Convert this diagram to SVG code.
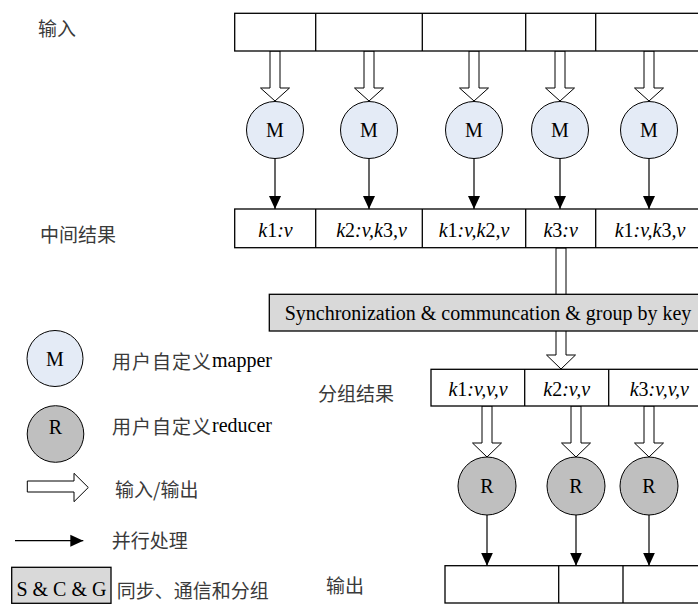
<svg xmlns="http://www.w3.org/2000/svg" width="698" height="604" viewBox="0 0 698 604">
<defs>
<marker id="ah" markerUnits="userSpaceOnUse" markerWidth="14" markerHeight="14" viewBox="0 0 14 14" refX="13" refY="7" orient="auto">
<path d="M0,1 L13,7 L0,13 Z" fill="#000"/>
</marker>
</defs>
<style>
.box{fill:#fff;stroke:#000;stroke-width:1.3}
.gray{fill:#d9d9d9;stroke:#000;stroke-width:1.3}
.mc{fill:#e4ebf6;stroke:#000;stroke-width:1}
.rc{fill:#bfbfbf;stroke:#000;stroke-width:1}
.ha{fill:#fff;stroke:#000;stroke-width:1}
.ln{stroke:#000;stroke-width:1.2;fill:none;marker-end:url(#ah)}
.dv{stroke:#000;stroke-width:1.3}
.t{font-family:"Liberation Serif","Noto Sans CJK SC",serif;font-size:20px;fill:#000;dominant-baseline:central}
.c{font-family:"Noto Sans CJK SC","Liberation Serif",sans-serif;font-size:19px;fill:#3a3a3a;dominant-baseline:central}
.cj{font-family:"Noto Sans CJK SC",sans-serif;font-size:19px;fill:#3a3a3a;letter-spacing:1px}
.m{text-anchor:middle}
.i{font-style:italic}
.n{font-style:normal}
</style>

<g id="labels">
<text class="c" x="38" y="27">输入</text>
<text class="c" x="40" y="233">中间结果</text>
<text class="c" x="318" y="392">分组结果</text>
<text class="c" x="326" y="584">输出</text>
</g>

<g id="connectors">
<polygon class="ha" points="270,51 280,51 280,88 289.5,88 275,101 260.5,88 270,88"/>
<polygon class="ha" points="364,51 374,51 374,88 383.5,88 369,101 354.5,88 364,88"/>
<polygon class="ha" points="469,51 479,51 479,88 488.5,88 474,101 459.5,88 469,88"/>
<polygon class="ha" points="555,51 565,51 565,88 574.5,88 560,101 545.5,88 555,88"/>
<polygon class="ha" points="644,51 654,51 654,88 663.5,88 649,101 634.5,88 644,88"/>
<line class="ln" x1="275" y1="158.5" x2="275" y2="209"/>
<line class="ln" x1="369" y1="158.5" x2="369" y2="209"/>
<line class="ln" x1="474" y1="158.5" x2="474" y2="209"/>
<line class="ln" x1="560" y1="158.5" x2="560" y2="209"/>
<line class="ln" x1="649" y1="158.5" x2="649" y2="209"/>
<polygon class="ha" points="556,248 566,248 566,355 575.5,355 561,369 546.5,355 556,355"/>
<polygon class="ha" points="482,406 492,406 492,443 501.5,443 487,457 472.5,443 482,443"/>
<polygon class="ha" points="571,406 581,406 581,443 590.5,443 576,457 561.5,443 571,443"/>
<polygon class="ha" points="644,406 654,406 654,443 663.5,443 649,457 634.5,443 644,443"/>
<line class="ln" x1="487" y1="515" x2="487" y2="565.7"/>
<line class="ln" x1="576" y1="515" x2="576" y2="565.7"/>
<line class="ln" x1="649" y1="515" x2="649" y2="565.7"/>
</g>

<g id="input-bar">
<rect class="box" x="234.7" y="13.3" width="480" height="37.7"/>
<line class="dv" x1="315.7" y1="13.3" x2="315.7" y2="51"/>
<line class="dv" x1="422.3" y1="13.3" x2="422.3" y2="51"/>
<line class="dv" x1="525.7" y1="13.3" x2="525.7" y2="51"/>
<line class="dv" x1="595.7" y1="13.3" x2="595.7" y2="51"/>
</g>

<g id="mappers">
<g id="m1"><circle class="mc" cx="275" cy="130" r="28.5"/><text class="t m" x="275" y="130">M</text></g>
<g id="m2"><circle class="mc" cx="369" cy="130" r="28.5"/><text class="t m" x="369" y="130">M</text></g>
<g id="m3"><circle class="mc" cx="474" cy="130" r="28.5"/><text class="t m" x="474" y="130">M</text></g>
<g id="m4"><circle class="mc" cx="560" cy="130" r="28.5"/><text class="t m" x="560" y="130">M</text></g>
<g id="m5"><circle class="mc" cx="649" cy="130" r="28.5"/><text class="t m" x="649" y="130">M</text></g>
</g>

<g id="intermediate-bar">
<rect class="box" x="234.7" y="209" width="480" height="38.7"/>
<line class="dv" x1="315.7" y1="209" x2="315.7" y2="247.7"/>
<line class="dv" x1="422.3" y1="209" x2="422.3" y2="247.7"/>
<line class="dv" x1="525.7" y1="209" x2="525.7" y2="247.7"/>
<line class="dv" x1="595.7" y1="209" x2="595.7" y2="247.7"/>
<text class="t m i" x="275.5" y="230">k<tspan class="n">1</tspan>:v</text>
<text class="t m i" x="371.5" y="230">k<tspan class="n">2</tspan>:v,k<tspan class="n">3</tspan>,v</text>
<text class="t m i" x="474" y="230">k<tspan class="n">1</tspan>:v,k<tspan class="n">2</tspan>,v</text>
<text class="t m i" x="560.7" y="230">k<tspan class="n">3</tspan>:v</text>
<text class="t m i" x="650" y="230">k<tspan class="n">1</tspan>:v,k<tspan class="n">3</tspan>,v</text>
</g>

<g id="sync">
<rect class="gray" x="269.3" y="294.3" width="440" height="36.7"/>
<text class="t m" x="488" y="313">Synchronization &amp; communcation &amp; group by key</text>
</g>

<g id="group-bar">
<rect class="box" x="431" y="369.3" width="280" height="36.7"/>
<line class="dv" x1="524.7" y1="369.3" x2="524.7" y2="406"/>
<line class="dv" x1="608.7" y1="369.3" x2="608.7" y2="406"/>
<text class="t m i" x="478" y="388.5">k<tspan class="n">1</tspan>:v,v,v</text>
<text class="t m i" x="566.7" y="388.5">k<tspan class="n">2</tspan>:v,v</text>
<text class="t m i" x="659.3" y="388.5">k<tspan class="n">3</tspan>:v,v,v</text>
</g>

<g id="reducers">
<g id="r1"><circle class="rc" cx="487" cy="486" r="29"/><text class="t m" x="487" y="486">R</text></g>
<g id="r2"><circle class="rc" cx="576" cy="486" r="29"/><text class="t m" x="576" y="486">R</text></g>
<g id="r3"><circle class="rc" cx="649" cy="486" r="29"/><text class="t m" x="649" y="486">R</text></g>
</g>

<g id="output-bar">
<rect class="box" x="445" y="565.7" width="270" height="37.3"/>
<line class="dv" x1="558.7" y1="565.7" x2="558.7" y2="603"/>
<line class="dv" x1="623" y1="565.7" x2="623" y2="603"/>
</g>

<g id="legend">
<g id="leg-m"><circle class="mc" cx="55" cy="358.5" r="28"/><text class="t m" x="55" y="358.5">M</text>
<text class="t" x="112" y="360"><tspan class="cj">用户自定义</tspan>mapper</text></g>
<g id="leg-r"><circle class="rc" cx="55.5" cy="434" r="28.3"/><text class="t m" x="55.5" y="427">R</text>
<text class="t" x="112" y="425"><tspan class="cj">用户自定义</tspan>reducer</text></g>
<g id="leg-io"><polygon class="ha" points="27.3,481 74,481 74,473.3 88.3,487.5 74,501.7 74,492 27.3,492"/>
<text class="c" x="115" y="488">输入/输出</text></g>
<g id="leg-par"><line class="ln" x1="15" y1="540.7" x2="83.3" y2="540.7"/>
<text class="c" x="111.7" y="539.5">并行处理</text></g>
<g id="leg-scg"><rect class="gray" x="11.7" y="567.3" width="99.3" height="36"/>
<text class="t m" x="61.4" y="589">S &amp; C &amp; G</text>
<text class="c" x="116.7" y="589">同步、通信和分组</text></g>
</g>
</svg>
